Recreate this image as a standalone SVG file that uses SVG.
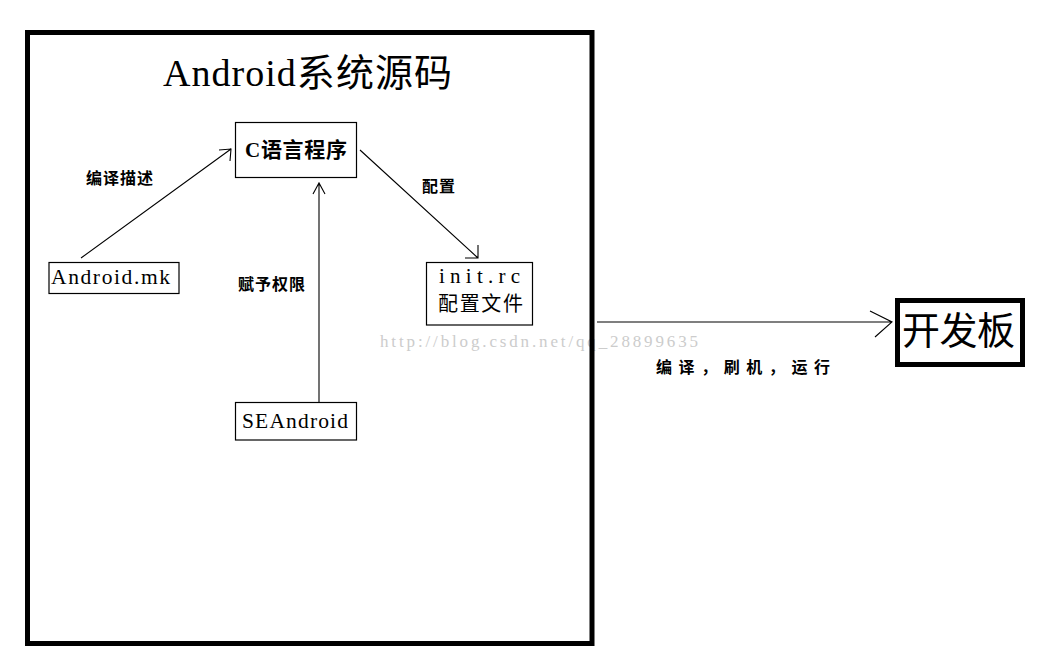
<svg xmlns="http://www.w3.org/2000/svg" width="1059" height="671" viewBox="0 0 1059 671">
<style>
  .box { fill: #ffffff; stroke: #000000; stroke-width: 1.2; }
  .thick { fill: none; stroke: #000000; stroke-width: 5; }
  .conn { fill: none; stroke: #000000; stroke-width: 1.1; }
  .mono { font-family: "Liberation Serif", "Noto Sans CJK SC", serif; fill: #000000; }
  .cjk { font-family: "Noto Sans CJK SC", "Liberation Sans", sans-serif; fill: #000000; }
  .lbl { font-family: "Noto Sans CJK SC", "Liberation Sans", sans-serif; font-size: 16px; font-weight: bold; fill: #000000; }
  .wm { font-family: "Liberation Serif", serif; font-size: 17px; fill: #cccccc; }
</style>
<rect x="0" y="0" width="1059" height="671" fill="#ffffff"/>
<text class="wm" x="380" y="347" textLength="318">http://blog.csdn.net/qq_28899635</text>
<g id="frame">
  <rect class="thick" x="27.5" y="32.5" width="564.5" height="611"/>
  <text class="mono" x="163" y="86" font-size="38" textLength="289">Android系统源码</text>
</g>
<g id="connectors">
  <path class="conn" d="M81,258 L231,149 M219,150 L231,149 L230,161"/>
  <path class="conn" d="M360,150 L478,258 M465,258 L478,258 L478,245"/>
  <path class="conn" d="M319,402 L319,183 M313,194 L319,183 L325,194"/>
  <path class="conn" d="M597,322 L892,322 M870,311 L892,322 L875,337"/>
</g>
<g id="node-c">
  <rect class="box" x="235.5" y="122.5" width="121" height="55"/>
  <text class="mono" x="245" y="157" font-size="21" font-weight="bold" textLength="102">C语言程序</text>
</g>
<g id="node-mk">
  <rect class="box" x="49" y="262.5" width="130" height="31"/>
  <text class="mono" x="51" y="284" font-size="21.5" textLength="119">Android.mk</text>
</g>
<g id="node-init">
  <rect class="box" x="426.5" y="262.5" width="106" height="62.5"/>
  <text class="mono" x="439" y="283" font-size="21" textLength="81">init.rc</text>
  <text class="cjk" x="438" y="311" font-size="20" textLength="85">配置文件</text>
</g>
<g id="node-se">
  <rect class="box" x="235.5" y="402.5" width="121" height="37.5"/>
  <text class="mono" x="242" y="428" font-size="21.5" textLength="106">SEAndroid</text>
</g>
<g id="node-board">
  <rect class="thick" x="897.5" y="300.5" width="125" height="64"/>
  <text class="cjk" x="902" y="344" font-size="38" textLength="113">开发板</text>
</g>
<g id="labels">
  <text class="lbl" x="86" y="184" textLength="67">编译描述</text>
  <text class="lbl" x="422" y="192" textLength="33">配置</text>
  <text class="lbl" x="238" y="290" textLength="67">赋予权限</text>
  <text class="lbl" x="656" y="373" font-size="19" textLength="174">编译，刷机，运行</text>
</g>
</svg>
